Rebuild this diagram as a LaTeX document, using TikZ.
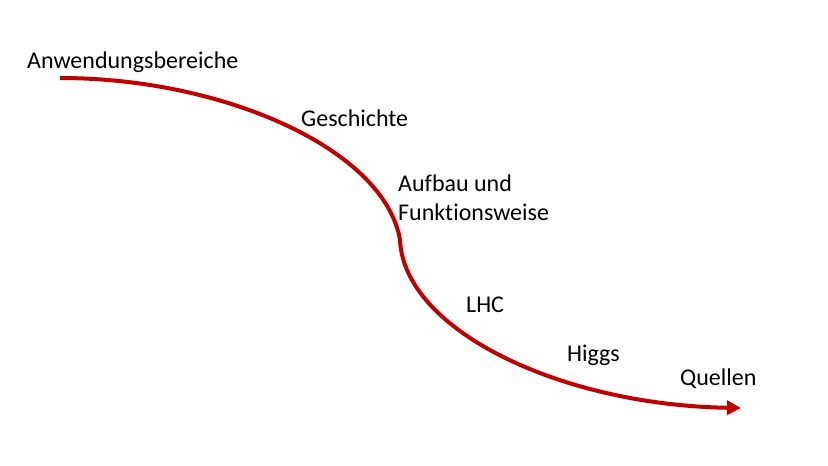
\documentclass[tikz,border=0pt]{standalone}
\usepackage{fontspec}
\setmainfont{Carlito}[Ligatures={NoCommon}]
\usetikzlibrary{arrows.meta}
\definecolor{curvered}{RGB}{192,0,0}
\tikzset{
  lbl/.style={font=\fontsize{24}{29}\selectfont, inner sep=0pt, anchor=west, text=black, align=left},
  path/.style={draw=curvered, line width=4pt}
}
\begin{document}
\begin{tikzpicture}[x=1pt,y=-1pt]
\useasboundingbox (0,0) rectangle (828,466);
\coordinate (s) at (60,78);
\coordinate (m) at (400,240);
\coordinate (e) at (741,408);
\draw[path, -{Triangle[length=14pt,width=14pt]}]
  (s) .. controls (225,78) and (385,150) .. (m)
      .. controls (404,330) and (560,405) .. (e);
\node[lbl] (a) at (27,62) {Anwendungsbereiche};
\node[lbl] (g) at (301,118) {Geschichte};
\node[lbl] (f) at (398,198) {Aufbau und\\Funktionsweise};
\node[lbl] (l) at (466,305) {LHC};
\node[lbl] (h) at (567,355) {Higgs};
\node[lbl] (q) at (680,379) {Quellen};
\end{tikzpicture}
\end{document}
